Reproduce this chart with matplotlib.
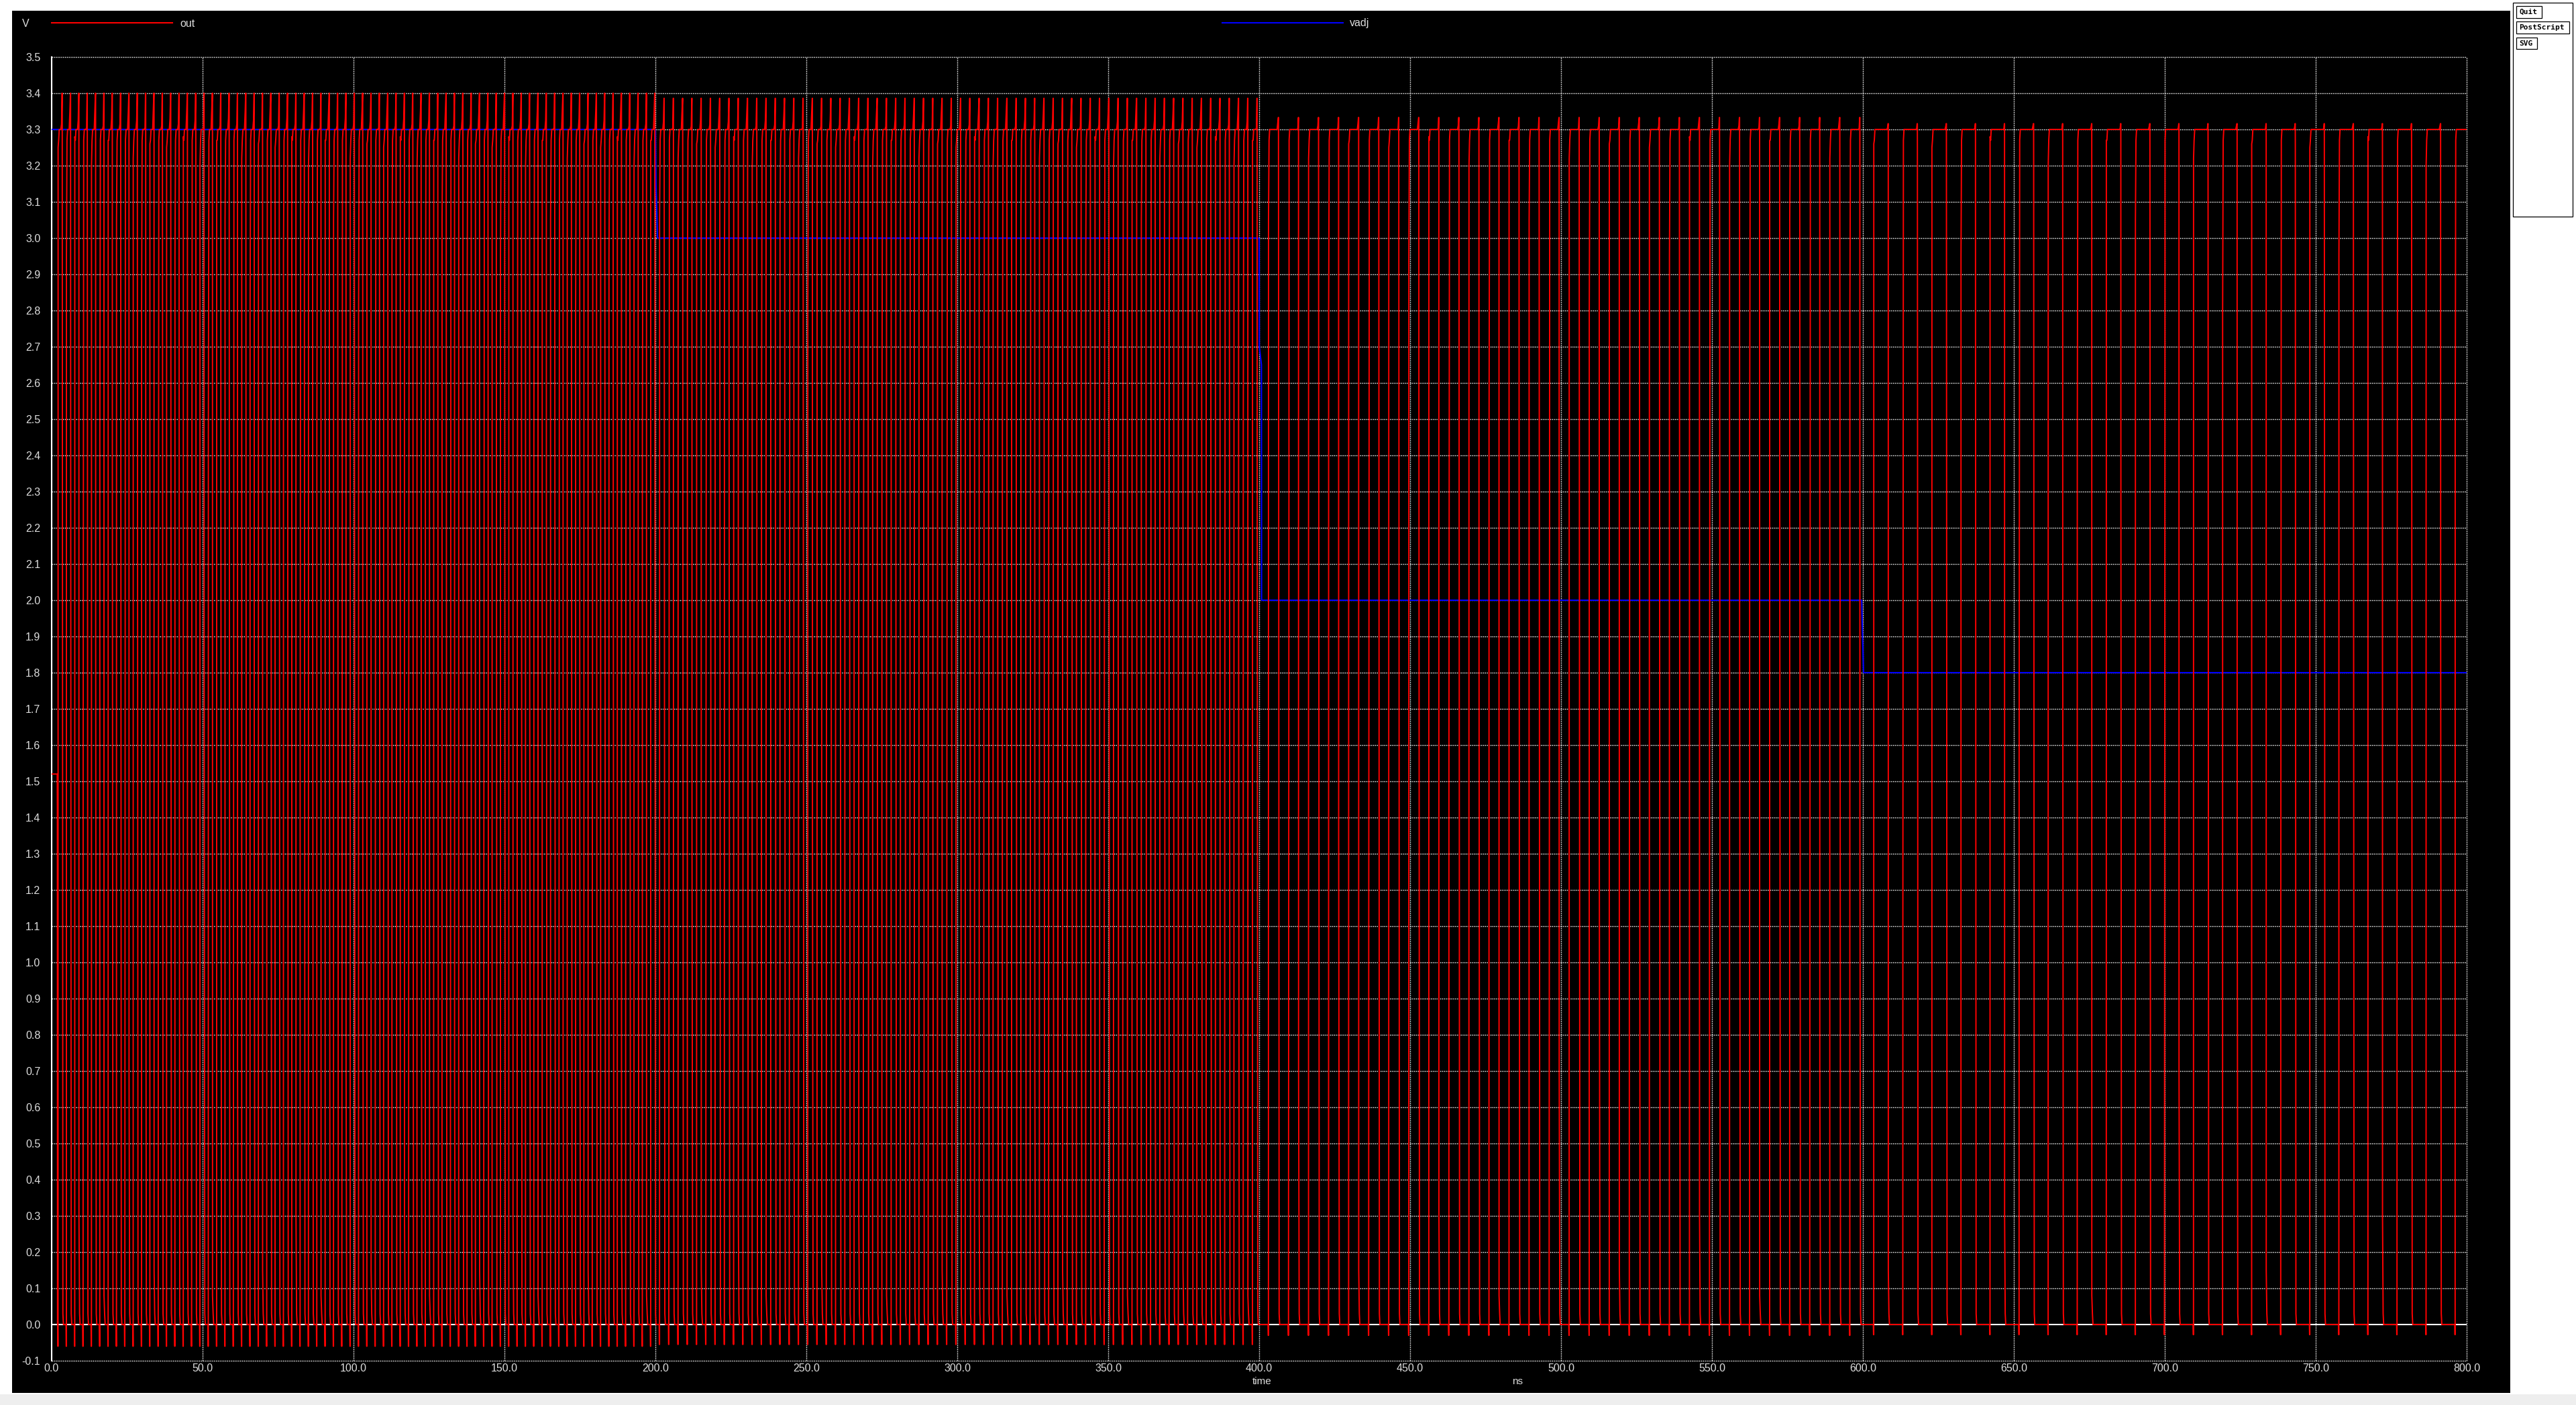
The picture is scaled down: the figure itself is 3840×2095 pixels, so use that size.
import numpy as np
import matplotlib
matplotlib.use("Agg")
import matplotlib.pyplot as plt
from matplotlib.patches import Rectangle
from matplotlib.lines import Line2D

# ---- data (time in ns, volts) ----
vadj_t = [0.0, 200.0, 200.2, 200.7, 400.0, 400.05, 400.75, 400.8, 599.6, 600.2, 800.0]
vadj_v = [3.3, 3.3, 3.15, 3.0, 3.0, 2.7, 2.65, 2.0, 2.0, 1.8, 1.8]

# out starts at ~1.52 V before oscillation kicks in
out_start_t = [0.0, 1.85, 1.9, 1.95]
out_start_v = [1.52, 1.52, 1.42, 0.0]

# oscillation segments: time of first overshoot spike, period, pulse count, spike level, undershoot
seg_first_peak = [3.5, 202.9, 406.4, 608.4]
seg_period = [2.765, 3.069, 6.641, 9.63]
seg_count = [72, 65, 30, 21]
seg_peak = [3.40, 3.386, 3.333, 3.316]
seg_dip = [-0.06, -0.055, -0.03, -0.028]

# intermediate step levels seen on the edges (coarse timestep)
rise_mid = [3.25, 2.95, 3.28, 1.55, 3.2, 2.45, 3.27, 3.05, 0.35, 3.22, 2.8, 3.26, 1.1]
fall_mid = [3.05, 2.7, 0.3, 3.2, 1.9, 0.08, 2.35, 3.1, 0.7, 2.9, 1.35, 0.15, 3.25]
# small bump just before the spike, as a share of (spike - 3.3)
pre_bump = [0.15, 0.5, 0.25, 0.05, 0.6, 0.1, 0.3]

xticks = [0, 50, 100, 150, 200, 250, 300, 350, 400, 450, 500, 550, 600, 650, 700, 750, 800]
yticks = [round(-0.1 + 0.1 * i, 1) for i in range(37)]

# ---- build the out trace from the segments ----
out_t = list(out_start_t)
out_v = list(out_start_v)
n = 0
for s in range(len(seg_first_peak)):
    P = seg_period[s]
    for k in range(seg_count[s]):
        tf = seg_first_peak[s] + k * P
        tr = tf - 0.5 * P
        mr = rise_mid[n % len(rise_mid)]
        mf = fall_mid[n % len(fall_mid)]
        bp = 3.3 + pre_bump[n % len(pre_bump)] * (seg_peak[s] - 3.3)
        n += 1
        out_t += [tr - 0.12, tr - 0.06, tr, tr + 0.02, tr + 0.2, tr + 0.4,
                  tf - 0.45, tf - 0.22, tf - 0.05, tf, tf + 0.02, tf + 0.22, tf + 0.4]
        out_v += [0.0, seg_dip[s], seg_dip[s], mr, 3.27, 3.3,
                  3.3, bp, seg_peak[s], seg_peak[s], mf, 0.03, 0.0]

W, H = 3840, 2095
fig = plt.figure(figsize=(W / 100, H / 100), dpi=100)
fig.patch.set_facecolor("white")

# black plot window, grey strip at the bottom, button panel on the right
fig.add_artist(Rectangle((18 / W, 1 - 2077 / H), (3742 - 18) / W, (2077 - 16) / H,
                         transform=fig.transFigure, facecolor="black", edgecolor="none", zorder=0))
fig.add_artist(Rectangle((0, 0), 1, (H - 2079) / H, transform=fig.transFigure,
                         facecolor="#eeeeee", edgecolor="none", zorder=0))
fig.add_artist(Rectangle((3746 / W, 1 - 323 / H), (3835 - 3746) / W, (323 - 4) / H,
                         transform=fig.transFigure, facecolor="white", edgecolor="black",
                         lw=0.9, zorder=1))
buttons = [("Quit", 3751, 9, 3789, 27), ("PostScript", 3751, 32, 3830, 50), ("SVG", 3751, 56, 3782, 73)]
for label, x0, y0, x1, y1 in buttons:
    fig.add_artist(Rectangle((x0 / W, 1 - y1 / H), (x1 - x0) / W, (y1 - y0) / H,
                             transform=fig.transFigure, facecolor="white", edgecolor="black",
                             lw=0.9, zorder=2))
    fig.text((x0 + 4) / W, 1 - (y0 + y1) / 2 / H, label, family="DejaVu Sans Mono",
             weight="bold", fontsize=8, color="black", ha="left", va="center", zorder=3)

ax = fig.add_axes([77 / W, 66 / H, 3600 / W, (2029 - 85) / H])
ax.set_facecolor("none")
ax.set_xlim(0, 800)
ax.set_ylim(-0.1, 3.5)
for sp in ["top", "right", "bottom"]:
    ax.spines[sp].set_visible(False)
ax.spines["left"].set_color("white")
ax.spines["left"].set_linewidth(1.5)

for y in yticks:
    if y != 0.0:
        ax.axhline(y, color="white", lw=1.0, ls=(0, (1, 1)), clip_on=False, zorder=1)
for x in xticks[1:]:
    ax.axvline(x, color="white", lw=1.0, ls=(0, (1, 1)), clip_on=False, zorder=1)
ax.axhline(0.0, color="white", lw=1.5, zorder=1.5)

ax.set_xticks(xticks)
ax.set_xticklabels(["%.1f" % x for x in xticks])
ax.set_yticks(yticks)
ax.set_yticklabels(["%.1f" % y for y in yticks])
ax.tick_params(axis="y", length=0, colors="#dddddd", labelsize=11.5, pad=12)
ax.tick_params(axis="x", length=0, colors="#dddddd", labelsize=11.5, pad=3)
for lab in ax.get_xticklabels() + ax.get_yticklabels():
    lab.set_family("Liberation Sans")

ax.plot(vadj_t, vadj_v, color="#0000ff", lw=1.5, zorder=3)
ax.plot(out_t, out_v, color="#ff0000", lw=1.4, zorder=4)

# header / legend
fig.text(33 / W, 1 - 35 / H, "V", color="#dddddd", fontsize=11.5, family="Liberation Sans",
         ha="left", va="center")
fig.add_artist(Line2D([77 / W, 257 / W], [1 - 34 / H, 1 - 34 / H], color="#ff0000", lw=1.5,
                      transform=fig.transFigure))
fig.text(268 / W, 1 - 35 / H, "out", color="#dddddd", fontsize=11.5, family="Liberation Sans",
         ha="left", va="center")
fig.add_artist(Line2D([1822 / W, 2002 / W], [1 - 34 / H, 1 - 34 / H], color="#0000ff", lw=1.5,
                      transform=fig.transFigure))
fig.text(2012 / W, 1 - 35 / H, "vadj", color="#dddddd", fontsize=11.5, family="Liberation Sans",
         ha="left", va="center")

fig.text(1881 / W, 1 - 2060 / H, "time", color="#dddddd", fontsize=11, family="Liberation Sans",
         ha="center", va="center")
fig.text(2262 / W, 1 - 2060 / H, "ns", color="#dddddd", fontsize=11, family="Liberation Sans",
         ha="center", va="center")

fig.savefig("out.png", dpi=100, facecolor=fig.get_facecolor())
